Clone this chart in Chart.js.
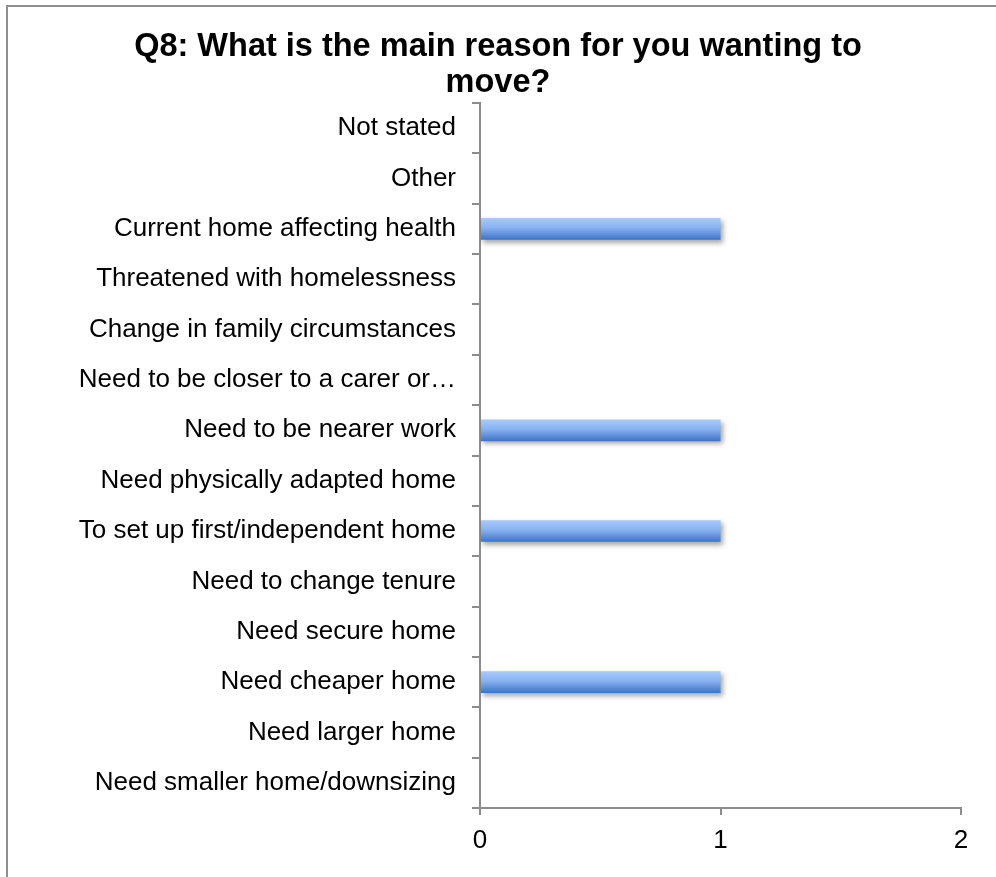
<!DOCTYPE html>
<html>
<head>
<meta charset="utf-8">
<script src="https://cdn.jsdelivr.net/npm/chart.js@4"></script>
<style>
  html, body { margin: 0; padding: 0; background: #fff; }
  #wrap { position: relative; width: 996px; height: 877px; overflow: hidden; }
  #frame {
    position: absolute; left: 6px; top: 5px; width: 1100px; height: 1000px;
    border: 2px solid #8e8e8e; box-sizing: border-box;
  }
  #chart { position: absolute; left: 0; top: 0; }
</style>
</head>
<body>
<div id="wrap">
  <div id="frame"></div>
  <canvas id="chart" width="996" height="877"></canvas>
</div>
<script>
// reasons, listed top to bottom as they appear on the axis
const reasons = [
  'Not stated',
  'Other',
  'Current home affecting health',
  'Threatened with homelessness',
  'Change in family circumstances',
  'Need to be closer to a carer or…',
  'Need to be nearer work',
  'Need physically adapted home',
  'To set up first/independent home',
  'Need to change tenure',
  'Need secure home',
  'Need cheaper home',
  'Need larger home',
  'Need smaller home/downsizing'
];
const responses = [0, 0, 1, 0, 0, 0, 1, 0, 1, 0, 0, 1, 0, 0];
const xTicks = [0, 1, 2];

const titleLines = ['Q8: What is the main reason for you wanting to', 'move?'];
const axisGrey = '#8c8c8c';
const fontFamily = '"Liberation Sans", Arial, sans-serif';

// vertical gradient for each bar, light on top, darker at the bottom
function barGradient(context) {
  const chart = context.chart;
  if (!chart.chartArea || context.dataIndex === undefined) return '#7aa6ea';
  const yScale = chart.scales.y;
  const mid = yScale.getPixelForValue(context.dataIndex);
  const half = 11;
  const g = chart.ctx.createLinearGradient(0, mid - half, 0, mid + half);
  g.addColorStop(0, '#a8cbfe');
  g.addColorStop(0.45, '#88b2f1');
  g.addColorStop(1, '#3c72c4');
  return g;
}

// soft drop shadow under the bars
const barShadow = {
  id: 'barShadow',
  beforeDatasetsDraw(chart) {
    const ctx = chart.ctx;
    ctx.save();
    ctx.shadowColor = 'rgba(0,0,0,0.35)';
    ctx.shadowBlur = 5;
    ctx.shadowOffsetX = 2;
    ctx.shadowOffsetY = 3;
  },
  afterDatasetsDraw(chart) {
    chart.ctx.restore();
  }
};

new Chart(document.getElementById('chart'), {
  type: 'bar',
  data: {
    labels: reasons,
    datasets: [{
      data: responses,
      backgroundColor: barGradient,
      borderWidth: 0,
      barPercentage: 0.43,
      categoryPercentage: 1
    }]
  },
  plugins: [barShadow],
  options: {
    indexAxis: 'y',
    responsive: false,
    animation: false,
    layout: { padding: 0 },
    plugins: {
      legend: { display: false },
      tooltip: { enabled: false },
      title: {
        display: true,
        text: titleLines,
        color: '#000',
        font: { family: fontFamily, size: 32.5, weight: 'bold', lineHeight: 1.1 },
        padding: { top: 29, bottom: 2.5 }
      }
    },
    scales: {
      x: {
        min: 0,
        max: 2,
        afterFit(scale) { scale.height = 69; },
        afterBuildTicks(scale) { scale.ticks = xTicks.map(v => ({ value: v })); },
        border: { color: axisGrey, width: 2 },
        grid: { drawOnChartArea: false, drawTicks: true, tickLength: 7, color: axisGrey, lineWidth: 2 },
        ticks: { color: '#000', padding: 10, font: { family: fontFamily, size: 26 } }
      },
      y: {
        afterFit(scale) { scale.width = 480; },
        border: { color: axisGrey, width: 2 },
        grid: { offset: true, drawOnChartArea: false, drawTicks: true, tickLength: 8, color: axisGrey, lineWidth: 2 },
        ticks: { color: '#000', padding: 16, autoSkip: false, font: { family: fontFamily, size: 26 } }
      },
      // empty strip on the right so the plot ends at x = 961
      yRight: {
        position: 'right',
        afterFit(scale) { scale.width = 35; },
        border: { display: false },
        grid: { display: false },
        ticks: { display: false }
      }
    }
  }
});
</script>
</body>
</html>
